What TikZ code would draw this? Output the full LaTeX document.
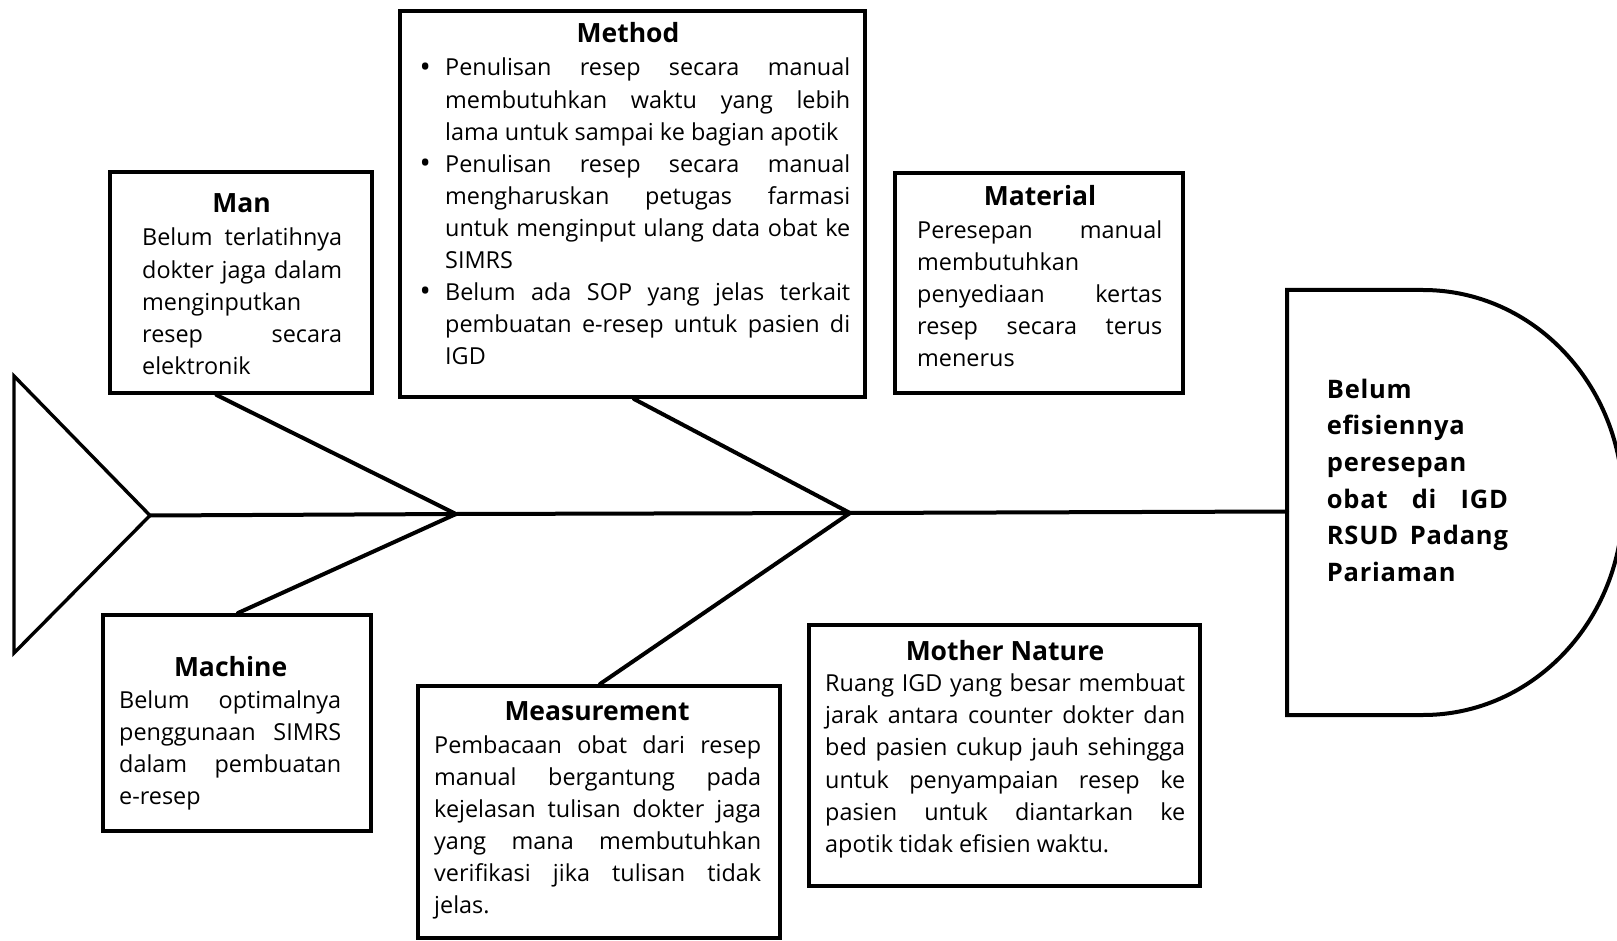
\documentclass[tikz,border=0pt]{standalone}
\usepackage{fontspec}
\setmainfont{Open Sans}
\newcommand\resetsp{\spaceskip=0pt\xspaceskip=0pt\relax}
\newcommand\jl[1]{\makebox[\hsize][s]{\resetsp#1}}
\newcommand\bul{\leavevmode\llap{\makebox[40pt][c]{\fontsize{30}{32}\selectfont\raisebox{-1.2pt}{\textbullet}}}}
\begin{document}
\begin{tikzpicture}[x=1pt,y=-1pt,
  box/.style={draw, line width=4pt, rectangle, inner sep=0pt},
  body/.style={anchor=base west, inner sep=0pt, text width=#1,
    font=\fontsize{23.4}{32.1}\selectfont, execute at begin node=\resetsp},
  ttl/.style={anchor=base, inner sep=0pt, font=\bfseries\fontsize{26.5}{30}\selectfont},
  headtxt/.style={anchor=base west, inner sep=0pt, text width=#1,
    font=\bfseries\fontsize{25.5}{36.7}\selectfont\addfontfeatures{LetterSpace=3},
    execute at begin node=\resetsp},
  bone/.style={line width=4pt, line cap=round, line join=round},
  outline/.style={line width=3.4pt, line join=miter}
]
\useasboundingbox (0,0) rectangle (1617,941);

% boxes
\node[box, minimum width=262pt, minimum height=221pt] (man) at (241,282.5) {};
\node[box, minimum width=465pt, minimum height=386pt] (method) at (632.5,204) {};
\node[box, minimum width=288pt, minimum height=220pt] (material) at (1039,283) {};
\node[box, minimum width=268.5pt, minimum height=216pt] (machine) at (236.75,723) {};
\node[box, minimum width=362pt, minimum height=252pt] (measure) at (599,812) {};
\node[box, minimum width=391pt, minimum height=261pt] (nature) at (1004.5,755.5) {};

% titles
\node[ttl] (tman) at (241.6,213) {Man};
\node[ttl] (tmethod) at (628,43) {Method};
\node[ttl] (tmaterial) at (1040,206) {Material};
\node[ttl] (tmachine) at (230.6,676) {Machine};
\node[ttl] (tmeasure) at (597,720.7) {Measurement};
\node[ttl] (tnature) at (1005,660) {Mother Nature};

% bodies
\node[body=200pt] (bman) at (142,246) {\jl{Belum terlatihnya}\\\jl{dokter jaga dalam}\\menginputkan\\\jl{resep secara}\\elektronik};
\node[body=405pt] (bmethod) at (445,76) {\bul\jl{Penulisan resep secara manual}\\\jl{membutuhkan waktu yang lebih}\\lama untuk sampai ke bagian apotik\\\bul\jl{Penulisan resep secara manual}\\\jl{mengharuskan petugas farmasi}\\\jl{untuk menginput ulang data obat ke}\\SIMRS\\\bul\jl{Belum ada SOP yang jelas terkait}\\\jl{pembuatan e-resep untuk pasien di}\\IGD};
\node[body=245pt] (bmaterial) at (917,238.6) {\jl{Peresepan manual}\\membutuhkan\\\jl{penyediaan kertas}\\\jl{resep secara terus}\\menerus};
\node[body=222pt] (bmachine) at (119,708) {\jl{Belum optimalnya}\\\jl{penggunaan SIMRS}\\\jl{dalam pembuatan}\\e-resep};
\node[body=327pt] (bmeasure) at (434,753) {\jl{Pembacaan obat dari resep}\\\jl{manual bergantung pada}\\\jl{kejelasan tulisan dokter jaga}\\\jl{yang mana membutuhkan}\\\jl{verifikasi jika tulisan tidak}\\jelas.};
\node[body=360pt] (bnature) at (825,691.7) {\jl{Ruang IGD yang besar membuat}\\\jl{jarak antara counter dokter dan}\\\jl{bed pasien cukup jauh sehingga}\\\jl{untuk penyampaian resep ke}\\\jl{pasien untuk diantarkan ke}\\apotik tidak efisien waktu.};

% head
\draw[line width=4pt, line join=miter] (1287,290) -- (1423,290)
  .. controls (1533.5,290) and (1623,385.1) .. (1623,502.5)
  .. controls (1623,619.9) and (1533.5,715) .. (1423,715)
  -- (1287,715) -- cycle;
\node[headtxt=181pt] (head) at (1326.7,398) {Belum\\efisiennya\\peresepan\\\jl{obat di IGD}\\\jl{RSUD Padang}\\Pariaman};

% tail
\coordinate (tailapex) at (150,515.5);
\draw[outline] (14,376) -- (tailapex) -- (14,653) -- cycle;

% spine and bones
\coordinate (j1) at (456,514);
\coordinate (j2) at (850,513);
\coordinate (headw) at (1287,511.5);
\draw[bone] (tailapex) -- (j1) -- (j2) -- (headw);
\draw[bone] ([xshift=-24.5pt]man.south) -- (j1) -- ([xshift=1.25pt]machine.north);
\draw[bone] ([xshift=1.5pt]method.south) -- (j2) -- ([xshift=1pt]measure.north);
\end{tikzpicture}
\end{document}
